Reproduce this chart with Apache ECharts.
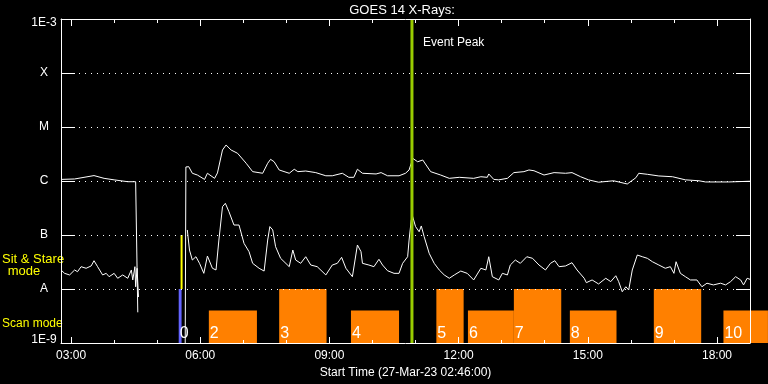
<!DOCTYPE html>
<html><head><meta charset="utf-8">
<script src="https://cdn.jsdelivr.net/npm/echarts@6/dist/echarts.min.js"></script>
<style>html,body{margin:0;padding:0;background:#000}#c{width:768px;height:384px}</style>
</head><body><div id="c"></div>
<script>
// ---- data ----
const startTime = '02:46';
const endTime = '18:46';
const xMajorTicks = ['03:00','06:00','09:00','12:00','15:00','18:00'];
const xMinorTicks = ['04:00','05:00','07:00','08:00','10:00','11:00','13:00','14:00','16:00','17:00'];
const yTickLabels = ['1E-9','A','B','C','M','X','1E-3'];
const yMin = 1e-9, yMax = 1e-3;
const axisTitle = 'Start Time (27-Mar-23 02:46:00)';
const chartTitle = 'GOES 14 X-Rays:';

// 1-8 A channel (upper curve), W/m^2 ; null = data gap
const longChannel = [
['02:46',1.07e-6],['03:05',1.09e-6],['03:32',1.26e-6],['03:46',1.12e-6],['04:00',1.05e-6],['04:19',9.7e-7],['04:30',9.7e-7],['04:33',3.7e-9],
['05:00',null],
['05:39',5e-10],['05:40',1.82e-6],['05:44',1.84e-6],['05:49',1.39e-6],['05:56',1.29e-6],['06:06',1.07e-6],['06:10',1.39e-6],['06:20',1.12e-6],['06:24',1.41e-6],
['06:31',3.75e-6],['06:36',4.64e-6],['06:43',3.75e-6],['06:52',3.26e-6],['07:04',2.13e-6],['07:13',1.49e-6],['07:27',1.39e-6],['07:34',2.13e-6],['07:38',2.52e-6],
['07:43',2.27e-6],['07:50',1.60e-6],['08:04',1.39e-6],['08:11',1.65e-6],['08:16',1.49e-6],['08:27',1.53e-6],['08:41',1.43e-6],['08:55',1.25e-6],['09:04',1.25e-6],
['09:18',1.39e-6],['09:27',1.17e-6],['09:34',1.17e-6],['09:39',1.65e-6],['09:46',1.39e-6],['10:05',1.35e-6],['10:12',1.43e-6],['10:21',1.25e-6],['10:37',1.25e-6],
['10:46',1.39e-6],['10:51',1.60e-6],['10:54',2.13e-6],['10:56',2.63e-6],['11:03',2.27e-6],['11:10',2.45e-6],['11:21',1.49e-6],['11:35',1.29e-6],['11:47',1.12e-6],
['12:01',1.17e-6],['12:21',1.12e-6],['12:31',1.20e-6],['12:40',1.17e-6],['12:42',1.35e-6],['12:49',1.07e-6],['12:56',1.05e-6],['13:08',1.12e-6],['13:17',1.43e-6],
['13:31',1.49e-6],['13:38',1.60e-6],['13:45',1.55e-6],['13:59',1.29e-6],['14:13',1.43e-6],['14:29',1.39e-6],['14:38',1.43e-6],['14:50',1.20e-6],['15:01',1.05e-6],
['15:15',9.5e-7],['15:36',1.01e-6],['15:55',8.8e-7],['16:07',1.15e-6],['16:11',1.39e-6],['16:23',1.33e-6],['16:39',1.24e-6],['16:58',1.20e-6],['17:16',1.05e-6],
['17:35',1.01e-6],['17:44',9.6e-7],['18:16',9.6e-7],['18:46',9.9e-7]
];

// 0.5-4 A channel (lower curve), W/m^2
const shortChannel = [
['02:46',2.25e-8],['02:51',1.95e-8],['02:58',1.82e-8],['03:05',2.25e-8],['03:09',2.09e-8],['03:14',2.59e-8],['03:21',2.42e-8],['03:28',2.67e-8],['03:32',3.34e-8],
['03:37',2.59e-8],['03:44',1.82e-8],['03:49',1.95e-8],['03:53',1.69e-8],['04:00',1.95e-8],['04:05',1.58e-8],['04:12',1.82e-8],['04:19',1.58e-8],['04:24',2.25e-8],
['04:26',1.47e-8],['04:29',2.59e-8],['04:30',1.10e-8],['04:32',2.42e-8],['04:34',7.1e-9],
['05:00',null],
['05:42',1.24e-7],['05:45',5.27e-8],['05:49',3.44e-8],['05:54',3.96e-8],['05:59',2.99e-8],['06:05',1.95e-8],['06:10',4.08e-8],['06:17',2.42e-8],['06:22',2.25e-8],
['06:26',8.07e-8],['06:31',3.34e-7],['06:35',3.86e-7],['06:40',2.70e-7],['06:47',1.53e-7],['06:54',1.53e-7],['07:01',7.0e-8],['07:08',4.91e-8],['07:13',2.99e-8],
['07:22',2.42e-8],['07:29',2.15e-8],['07:34',8.07e-8],['07:37',1.43e-7],['07:41',1.24e-7],['07:45',6.07e-8],['07:52',3.70e-8],['08:04',2.59e-8],['08:09',5.27e-8],
['08:13',3.44e-8],['08:20',2.99e-8],['08:27',3.96e-8],['08:34',2.78e-8],['08:43',2.59e-8],['08:55',1.82e-8],['09:04',2.78e-8],['09:11',2.99e-8],['09:17',3.86e-8],
['09:23',2.42e-8],['09:32',1.69e-8],['09:39',6.53e-8],['09:44',4.91e-8],['09:46',2.99e-8],['09:55',2.78e-8],['10:02',2.59e-8],['10:09',3.55e-8],['10:14',2.78e-8],
['10:21',2.18e-8],['10:30',1.95e-8],['10:37',1.95e-8],['10:42',2.99e-8],['10:49',3.96e-8],['10:51',8.07e-8],['10:54',1.90e-7],['10:56',2.18e-7],['11:00',1.43e-7],
['11:05',1.15e-7],['11:08',1.47e-7],['11:12',9.3e-8],['11:19',4.58e-8],['11:26',2.99e-8],['11:33',2.25e-8],['11:40',1.82e-8],['11:47',1.58e-8],['11:54',1.82e-8],
['12:03',2.15e-8],['12:12',1.95e-8],['12:21',1.47e-8],['12:31',2.42e-8],['12:38',2.25e-8],['12:42',3.96e-8],['12:47',1.69e-8],['12:56',1.47e-8],['13:01',1.95e-8],
['13:08',1.82e-8],['13:12',2.78e-8],['13:19',3.44e-8],['13:26',2.99e-8],['13:35',3.96e-8],['13:43',3.70e-8],['13:52',2.78e-8],['14:01',2.25e-8],['14:08',2.99e-8],
['14:14',3.34e-8],['14:20',2.59e-8],['14:29',2.67e-8],['14:38',3.07e-8],['14:45',2.25e-8],['14:55',1.58e-8],['14:58',1.31e-8],['15:06',1.47e-8],['15:15',1.24e-8],
['15:25',1.58e-8],['15:32',1.37e-8],['15:39',1.76e-8],['15:43',1.37e-8],['15:48',8.9e-9],['15:53',1.10e-8],['15:57',9.6e-9],['16:02',2.25e-8],['16:09',4.26e-8],
['16:16',3.96e-8],['16:23',3.70e-8],['16:30',3.2e-8],['16:39',2.78e-8],['16:48',2.42e-8],['16:55',2.59e-8],['17:00',1.95e-8],['17:03',3.2e-8],['17:09',1.95e-8],
['17:16',1.69e-8],['17:23',1.47e-8],['17:32',1.47e-8],['17:39',1.10e-8],['17:46',1.28e-8],['17:55',1.19e-8],['18:05',1.28e-8],['18:12',1.19e-8],['18:19',1.37e-8],
['18:26',1.69e-8],['18:33',1.47e-8],['18:37',1.19e-8],['18:42',1.58e-8],['18:46',1.51e-8]
];

// observing-mode blocks
const modeLabel = ['0','2','3','4','5','6','7','8','9','10'];
const modeStart = ['05:30','06:12','07:50','09:30','11:29','12:13','13:17','14:35','16:32','18:09'];
const modeEnd   = ['05:34','07:19','08:56','10:37','12:07','13:17','14:23','15:40','17:38','19:11'];
const modeTop   = [1e-8, 4e-9, 1e-8, 4e-9, 1e-8, 4e-9, 1e-8, 4e-9, 1e-8, 4e-9];
const sitStareTime = '05:34';
const sitStareRange = [1e-8, 1e-7];
const eventPeakTime = '10:55';

// ---- helpers ----
const toMin = s => { const [h, m] = s.split(':').map(Number); return h * 60 + m; };
const fmt = v => { const h = Math.floor(v / 60), m = Math.round(v % 60); return String(h).padStart(2,'0') + ':' + String(m).padStart(2,'0'); };
const FONT = '"Liberation Sans", Arial, sans-serif';
const WHITE = '#ffffff';
const xmin = toMin(startTime), xmax = toMin(endTime);

const chart = echarts.init(document.getElementById('c'), null, {renderer: 'canvas'});

const baseX = (pos, ticks, len, show) => ({
  type: 'value', position: pos, min: xmin, max: xmax, z: 5,
  axisLine: {show: show, lineStyle: {color: WHITE, width: 1}},
  axisTick: {show: true, inside: true, length: len, customValues: ticks.map(toMin), lineStyle: {color: WHITE}},
  axisLabel: {show: false},
  splitLine: {show: false}
});

const xAxes = [
  Object.assign(baseX('bottom', xMajorTicks, 6, true), {
    axisLabel: {show: true, customValues: xMajorTicks.map(toMin), formatter: fmt, color: WHITE, fontFamily: FONT, fontSize: 12, margin: 7},
    name: axisTitle, nameLocation: 'middle', nameGap: 19,
    nameTextStyle: {color: WHITE, fontFamily: FONT, fontSize: 12}
  }),
  baseX('bottom', xMinorTicks, 3, false),
  baseX('top', xMajorTicks, 7, true),
  baseX('top', xMinorTicks, 4, false)
];

const yAxes = [
  {
    type: 'log', logBase: 10, min: yMin, max: yMax, position: 'left', z: 5,
    axisLine: {show: true, lineStyle: {color: WHITE}},
    axisTick: {show: true, inside: true, length: 14, lineStyle: {color: WHITE}},
    axisLabel: {
      color: WHITE, fontFamily: FONT, fontSize: 12, margin: 17, align: 'center',
      formatter: v => {
        const i = Math.round(Math.log10(v)) + 9;
        const t = yTickLabels[i];
        if (i === 0) return '{t|' + t + '}\n{sp| }';
        if (i === yTickLabels.length - 1) return '{sp2| }\n{t|' + t + '}';
        return t;
      },
      rich: {
        t: {color: WHITE, fontFamily: FONT, fontSize: 12, lineHeight: 14},
        sp: {fontSize: 1, lineHeight: 6},
        sp2: {fontSize: 1, lineHeight: 8}
      }
    },
    splitLine: {show: true, lineStyle: {color: WHITE, width: 1, type: [1, 5]}}
  },
  {
    type: 'log', logBase: 10, min: yMin, max: yMax, position: 'right', z: 5,
    axisLine: {show: true, lineStyle: {color: WHITE}},
    axisTick: {show: true, inside: true, length: 14, lineStyle: {color: WHITE}},
    axisLabel: {show: false},
    splitLine: {show: false}
  }
];

const toSeries = arr => arr.map(([t, v]) => [toMin(t), v === null ? '-' : v]);

const modeData = modeLabel.map((l, i) => [toMin(modeStart[i]), toMin(modeEnd[i]), modeTop[i], i]);

const option = {
  backgroundColor: '#000000',
  animation: false,
  grid: {left: 61, right: 18, top: 19, bottom: 41, containLabel: false},
  xAxis: xAxes,
  yAxis: yAxes,
  graphic: [
    {type: 'text', x: 402, y: 10, style: {text: chartTitle, fill: WHITE, fontFamily: FONT, fontSize: 13, align: 'center', verticalAlign: 'middle'}},
    {type: 'text', x: 2, y: 259, style: {text: 'Sit & Stare', fill: '#ffff00', fontFamily: FONT, fontSize: 13, align: 'left', verticalAlign: 'middle'}},
    {type: 'text', x: 24, y: 271, style: {text: 'mode', fill: '#ffff00', fontFamily: FONT, fontSize: 13, align: 'center', verticalAlign: 'middle'}},
    {type: 'text', x: 2, y: 324, style: {text: 'Scan mode', fill: '#ffff00', fontFamily: FONT, fontSize: 12, align: 'left', verticalAlign: 'middle'}}
  ],
  series: [
    {
      type: 'custom', name: 'modes', xAxisIndex: 0, yAxisIndex: 0, clip: false, z: 1,
      encode: {x: [0, 1], y: 2},
      data: modeData,
      renderItem: (params, api) => {
        const i = api.value(3);
        const p0 = api.coord([api.value(0), api.value(2)]);
        const p1 = api.coord([api.value(1), yMin]);
        return {type: 'group', children: [
          {type: 'rect', shape: {x: p0[0], y: p0[1], width: p1[0] - p0[0], height: p1[1] - p0[1]},
           style: {fill: i === 0 ? '#6464ff' : '#ff8000'}},
          {type: 'text', x: p0[0] + 1, y: p1[1] - 9,
           style: {text: modeLabel[i], fill: WHITE, fontFamily: FONT, fontSize: 16, align: 'left', verticalAlign: 'middle'}}
        ]};
      }
    },
    {
      type: 'custom', name: 'sitstare', xAxisIndex: 0, yAxisIndex: 0, clip: false, z: 1,
      encode: {x: 0, y: [1, 2]},
      data: [[toMin(sitStareTime), sitStareRange[0], sitStareRange[1]]],
      renderItem: (params, api) => {
        const a = api.coord([api.value(0), api.value(1)]);
        const b = api.coord([api.value(0), api.value(2)]);
        return {type: 'line', shape: {x1: a[0], y1: a[1], x2: b[0], y2: b[1]}, style: {stroke: '#ffff00', lineWidth: 2}};
      }
    },
    {
      type: 'line', name: 'long', xAxisIndex: 0, yAxisIndex: 0, data: toSeries(longChannel),
      showSymbol: false, symbol: 'none', connectNulls: false, clip: true, z: 2,
      lineStyle: {color: WHITE, width: 1}
    },
    {
      type: 'line', name: 'short', xAxisIndex: 0, yAxisIndex: 0, data: toSeries(shortChannel),
      showSymbol: false, symbol: 'none', connectNulls: false, clip: true, z: 2,
      lineStyle: {color: WHITE, width: 1}
    },
    {
      type: 'custom', name: 'event', xAxisIndex: 0, yAxisIndex: 0, clip: false, z: 3,
      encode: {x: 0},
      data: [[toMin(eventPeakTime)]],
      renderItem: (params, api) => {
        const cs = params.coordSys;
        const x = api.coord([api.value(0), 1e-6])[0];
        return {type: 'group', children: [
          {type: 'line', shape: {x1: x, y1: cs.y, x2: x, y2: cs.y + cs.height}, style: {stroke: '#99cc00', lineWidth: 3}},
          {type: 'text', x: x + 11, y: 43, style: {text: 'Event Peak', fill: WHITE, fontFamily: FONT, fontSize: 12, align: 'left', verticalAlign: 'middle'}}
        ]};
      }
    }
  ]
};
chart.setOption(option);
</script>
</body></html>
